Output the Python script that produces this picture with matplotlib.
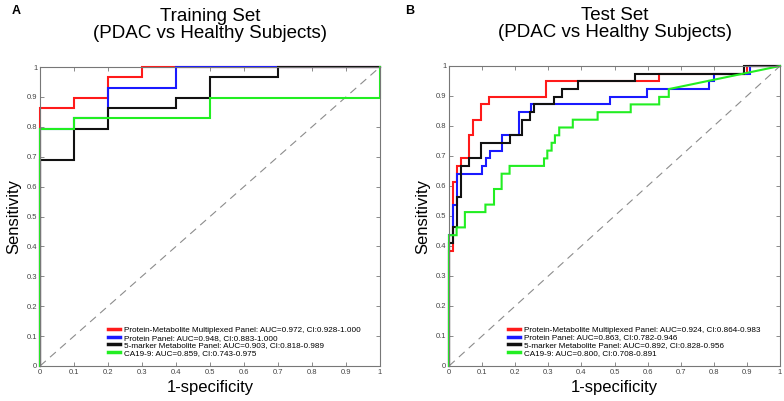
import matplotlib
matplotlib.use("Agg")
import matplotlib.pyplot as plt

plt.rcParams['font.family'] = ['Liberation Sans', 'DejaVu Sans']

# ---------------- data ----------------
series_names = ["Protein-Metabolite Multiplexed Panel", "Protein Panel",
                "5-marker Metabolite Panel", "CA19-9"]
series_colors = ["#ff1a1a", "#1a1aff", "#111111", "#22ee22"]

train_labels = ["Protein-Metabolite Multiplexed Panel: AUC=0.972, CI:0.928-1.000",
                "Protein Panel: AUC=0.948, CI:0.883-1.000",
                "5-marker Metabolite Panel: AUC=0.903, CI:0.818-0.989",
                "CA19-9: AUC=0.859, CI:0.743-0.975"]
test_labels = ["Protein-Metabolite Multiplexed Panel: AUC=0.924, CI:0.864-0.983",
               "Protein Panel: AUC=0.863, CI:0.782-0.946",
               "5-marker Metabolite Panel: AUC=0.892, CI:0.828-0.956",
               "CA19-9: AUC=0.800, CI:0.708-0.891"]

# Training set ROC points (1-specificity, sensitivity)
train_pm_fpr = [0, 0, 0.1, 0.1, 0.2, 0.2, 0.3, 0.3, 1]
train_pm_tpr = [0, 0.862, 0.862, 0.897, 0.897, 0.966, 0.966, 1, 1]
train_prot_fpr = [0, 0, 0.1, 0.1, 0.2, 0.2, 0.4, 0.4, 1]
train_prot_tpr = [0, 0.793, 0.793, 0.828, 0.828, 0.931, 0.931, 1, 1]
train_met_fpr = [0, 0, 0.1, 0.1, 0.2, 0.2, 0.4, 0.4, 0.5, 0.5, 0.7, 0.7, 1]
train_met_tpr = [0, 0.690, 0.690, 0.793, 0.793, 0.862, 0.862, 0.897, 0.897, 0.966, 0.966, 1, 1]
train_ca_fpr = [0, 0, 0.1, 0.1, 0.5, 0.5, 1, 1]
train_ca_tpr = [0, 0.793, 0.793, 0.828, 0.828, 0.897, 0.897, 1]

# Test set ROC points
test_pm_fpr = [0, 0, 0.012, 0.012, 0.024, 0.024, 0.037, 0.037, 0.061, 0.061, 0.073, 0.073,
               0.098, 0.098, 0.122, 0.122, 0.293, 0.293, 0.634, 0.634, 0.9, 0.9, 1]
test_pm_tpr = [0, 0.385, 0.385, 0.615, 0.615, 0.667, 0.667, 0.692, 0.692, 0.769, 0.769, 0.821,
               0.821, 0.872, 0.872, 0.897, 0.897, 0.949, 0.949, 0.974, 0.974, 1, 1]
test_prot_fpr = [0, 0, 0.012, 0.012, 0.024, 0.024, 0.099, 0.099, 0.111, 0.111, 0.124, 0.124,
                 0.161, 0.161, 0.211, 0.211, 0.248, 0.248, 0.486, 0.486, 0.599, 0.599,
                 0.786, 0.786, 0.8, 0.8, 0.909, 0.909, 1]
test_prot_tpr = [0, 0.436, 0.436, 0.538, 0.538, 0.641, 0.641, 0.667, 0.667, 0.692, 0.692, 0.718,
                 0.718, 0.769, 0.769, 0.846, 0.846, 0.872, 0.872, 0.897, 0.897, 0.923,
                 0.923, 0.949, 0.949, 0.974, 0.974, 1, 1]
test_met_fpr = [0, 0, 0.012, 0.012, 0.024, 0.024, 0.037, 0.037, 0.061, 0.061, 0.098, 0.098,
                0.183, 0.183, 0.22, 0.22, 0.244, 0.244, 0.256, 0.256, 0.317, 0.317,
                0.341, 0.341, 0.39, 0.39, 0.561, 0.561, 0.89, 0.89, 1]
test_met_tpr = [0, 0.41, 0.41, 0.462, 0.462, 0.564, 0.564, 0.667, 0.667, 0.692, 0.692, 0.744,
                0.744, 0.769, 0.769, 0.821, 0.821, 0.846, 0.846, 0.872, 0.872, 0.897,
                0.897, 0.923, 0.923, 0.949, 0.949, 0.974, 0.974, 1, 1]
test_ca_fpr = [0, 0, 0.023, 0.023, 0.048, 0.048, 0.11, 0.11, 0.136, 0.136, 0.159, 0.159,
               0.183, 0.183, 0.287, 0.287, 0.297, 0.297, 0.31, 0.31, 0.32, 0.32,
               0.333, 0.333, 0.374, 0.374, 0.449, 0.449, 0.549, 0.549, 0.635, 0.635,
               0.664, 0.664, 1]
test_ca_tpr = [0, 0.436, 0.436, 0.462, 0.462, 0.513, 0.513, 0.538, 0.538, 0.59, 0.59, 0.641,
               0.641, 0.667, 0.667, 0.692, 0.692, 0.718, 0.718, 0.744, 0.744, 0.769,
               0.769, 0.795, 0.795, 0.821, 0.821, 0.846, 0.846, 0.872, 0.872, 0.897,
               0.897, 0.923, 1]

tick_values = [0, 0.1, 0.2, 0.3, 0.4, 0.5, 0.6, 0.7, 0.8, 0.9, 1]
tick_labels = ["0", "0.1", "0.2", "0.3", "0.4", "0.5", "0.6", "0.7", "0.8", "0.9", "1"]

# ---------------- figure ----------------
W, H = 784, 401
fig = plt.figure(figsize=(W / 100, H / 100), dpi=100)

def px_axes(l, r, t, b):
    return fig.add_axes([l / W, 1 - b / H, (r - l) / W, (b - t) / H])

axA = px_axes(40, 380, 67, 366)
axB = px_axes(449, 780, 66, 366)

panels = [
    (axA, "Training Set\n(PDAC vs Healthy Subjects)", "A", 16,
     [(train_pm_fpr, train_pm_tpr), (train_prot_fpr, train_prot_tpr),
      (train_met_fpr, train_met_tpr), (train_ca_fpr, train_ca_tpr)], train_labels, 0.2),
    (axB, "Test Set\n(PDAC vs Healthy Subjects)", "B", 410,
     [(test_pm_fpr, test_pm_tpr), (test_prot_fpr, test_prot_tpr),
      (test_met_fpr, test_met_tpr), (test_ca_fpr, test_ca_tpr)], test_labels, 0.178),
]

for ax, title, letter, letter_x, curves, labels, legx in panels:
    ax.plot([0, 1], [0, 1], color="#8c8c8c", lw=0.8, dashes=(7, 5), zorder=1)
    handles = []
    for (fx, ty), col, lab in zip(curves, series_colors, labels):
        h, = ax.plot(fx, ty, color=col, lw=1.5, solid_joinstyle="miter", clip_on=False, zorder=2)
        handles.append(h)
    ax.set_xlim(0, 1)
    ax.set_ylim(0, 1)
    ax.set_xticks(tick_values)
    ax.set_yticks(tick_values)
    ax.set_xticklabels(tick_labels)
    ax.set_yticklabels(tick_labels)
    ax.tick_params(direction="in", top=True, right=True, length=3, width=0.6,
                   color="#777777", labelsize=5.5, labelcolor="#444444", pad=2)
    for s in ax.spines.values():
        s.set_color("#777777")
        s.set_linewidth(0.8)
    ax.set_title(title, fontsize=13.5, pad=21, linespacing=0.98)
    ax.set_xlabel("1-specificity", fontsize=12, labelpad=3)
    ax.set_ylabel("Sensitivity", fontsize=12, labelpad=4)
    leg = ax.legend(handles, labels, loc="lower left", bbox_to_anchor=(legx, 0.03),
                    frameon=False, fontsize=5.9, handlelength=1.5, handletextpad=0.45,
                    labelspacing=0.0, borderpad=0, borderaxespad=0)
    for lh in leg.get_lines():
        lh.set_linewidth(2.5)
    fig.text(letter_x / W, 1 - 5 / H, letter, fontsize=9, fontweight="bold",
             ha="center", va="top")

fig.savefig("out.png", dpi=100)
